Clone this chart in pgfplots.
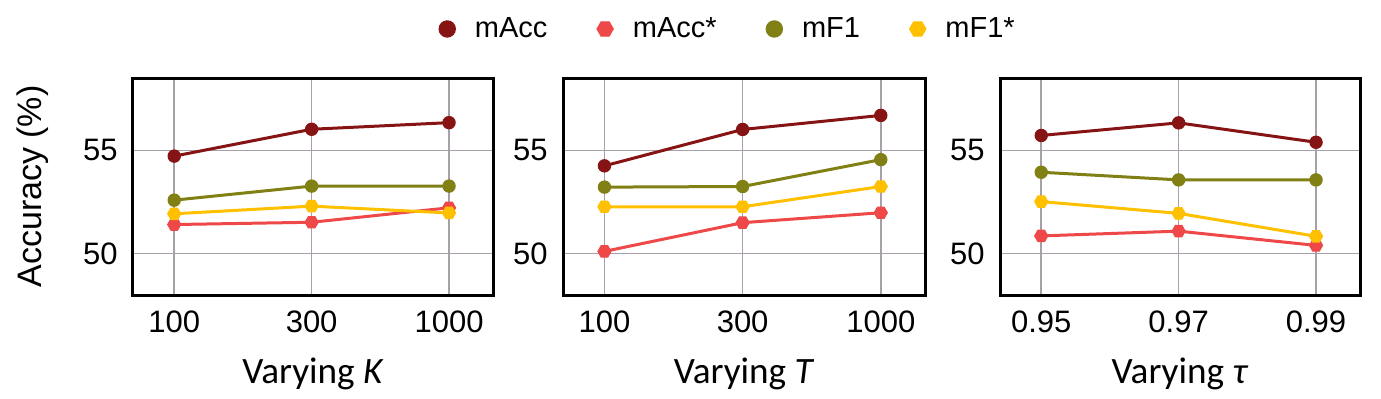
\documentclass[border=0pt]{standalone}
\usepackage{fontspec}
\setmainfont{Liberation Sans}
\newfontfamily\calibri{Carlito}
\usepackage{pgfplots}
\pgfplotsset{compat=1.18}

\definecolor{accD}{RGB}{134,20,20}
\definecolor{accS}{RGB}{238,72,72}
\definecolor{fD}{RGB}{128,128,20}
\definecolor{fS}{RGB}{255,192,0}
\definecolor{gridc}{RGB}{168,160,168}

% hexagon mark, pointy left/right
\pgfdeclareplotmark{hexagon}{%
  \pgfpathmoveto{\pgfqpointpolar{0}{\pgfplotmarksize}}%
  \pgfpathlineto{\pgfqpointpolar{60}{\pgfplotmarksize}}%
  \pgfpathlineto{\pgfqpointpolar{120}{\pgfplotmarksize}}%
  \pgfpathlineto{\pgfqpointpolar{180}{\pgfplotmarksize}}%
  \pgfpathlineto{\pgfqpointpolar{240}{\pgfplotmarksize}}%
  \pgfpathlineto{\pgfqpointpolar{300}{\pgfplotmarksize}}%
  \pgfpathclose
  \pgfusepathqfillstroke}

\pgfplotsset{
  panel/.style={
    scale only axis, width=180pt, height=108.5pt,
    xmin=-0.3, xmax=2.32, ymin=48, ymax=58.5,
    xtick={0,1,2}, ytick={50,55}, yticklabels={50,55},
    grid=major, major grid style={gridc, line width=0.8pt},
    major tick length=0pt,
    axis line style={line width=1.5pt},
    tick label style={font=\fontsize{15.5}{18}\selectfont},
    xticklabel style={anchor=base, inner sep=0pt, yshift=-18.5pt},
    yticklabel style={anchor=east, inner sep=0pt, xshift=-7.5pt},
    every axis x label/.style={at={(axis description cs:0.5,0)}, anchor=base, yshift=-44pt,
      font=\calibri\fontsize{18.6}{22}\selectfont},
    every axis y label/.style={at={(axis description cs:-0.2528,0.5)}, rotate=90, anchor=base,
      font=\fontsize{17}{20}\selectfont},
    clip=false,
  },
  sAcc/.style={color=accD, mark=*, line width=1.5pt, mark size=3.1pt, mark options={line width=0.5pt}},
  sAccS/.style={color=accS, mark=hexagon, line width=1.5pt, mark size=3.3pt, mark options={line width=0.5pt}},
  sF/.style={color=fD, mark=*, line width=1.5pt, mark size=3.1pt, mark options={line width=0.5pt}},
  sFS/.style={color=fS, mark=hexagon, line width=1.5pt, mark size=3.3pt, mark options={line width=0.5pt}},
}

\begin{document}
\begin{tikzpicture}
\useasboundingbox (-66.5pt,-51.5pt) rectangle (624pt,147.5pt);

\begin{axis}[panel, at={(0pt,0pt)}, anchor=south west,
    xticklabels={100,300,1000},
    xlabel={Varying \textit{K}},
    ylabel={Accuracy (\%)},
    legend columns=4,
    legend style={at={(axis description cs:0.849,1.226)}, anchor=west, draw=none, fill=none,
      inner sep=0pt, font=\fontsize{14.5}{17}\selectfont,
      nodes={inner sep=0pt},
      /tikz/every odd column/.append style={column sep=9.75pt},
      /tikz/every even column/.append style={column sep=24.75pt}},
    legend image code/.code={\draw[#1,mark size=4.1pt] plot coordinates {(0pt,0pt)};},
  ]
\addplot[sAcc]  coordinates {(0,54.72)(1,56.02)(2,56.34)};
\addplot[sAccS] coordinates {(0,51.41)(1,51.52)(2,52.22)};
\addplot[sF]    coordinates {(0,52.59)(1,53.27)(2,53.27)};
\addplot[sFS]   coordinates {(0,51.93)(1,52.30)(2,51.97)};
\legend{mAcc,mAcc*,mF1,mF1*}
\end{axis}

\begin{axis}[panel, at={(215pt,0pt)}, anchor=south west, width=181pt,
    xticklabels={100,300,1000},
    xlabel={Varying \textit{T}},
  ]
\addplot[sAcc]  coordinates {(0,54.25)(1,56.01)(2,56.69)};
\addplot[sAccS] coordinates {(0,50.11)(1,51.50)(2,51.98)};
\addplot[sF]    coordinates {(0,53.22)(1,53.25)(2,54.55)};
\addplot[sFS]   coordinates {(0,52.27)(1,52.27)(2,53.25)};
\end{axis}

\begin{axis}[panel, at={(433.5pt,0pt)}, anchor=south west,
    xticklabels={0.95,0.97,0.99},
    xlabel={Varying \textit{τ}},
  ]
\addplot[sAcc]  coordinates {(0,55.72)(1,56.33)(2,55.39)};
\addplot[sAccS] coordinates {(0,50.86)(1,51.09)(2,50.40)};
\addplot[sF]    coordinates {(0,53.94)(1,53.57)(2,53.57)};
\addplot[sFS]   coordinates {(0,52.52)(1,51.95)(2,50.84)};
\end{axis}
\end{tikzpicture}
\end{document}
